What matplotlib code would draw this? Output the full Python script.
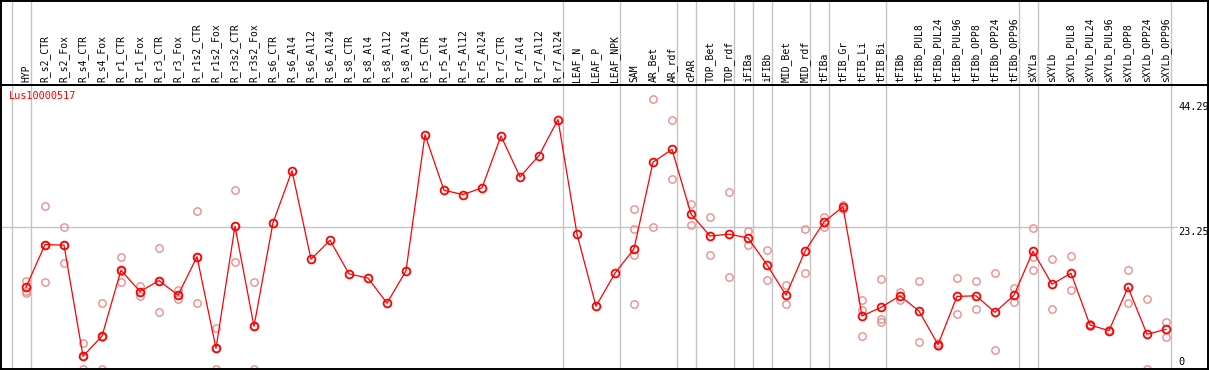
import matplotlib.pyplot as plt

LABELS = [
    "HYP", "R_s2_CTR", "R_s2_Fox", "R_s4_CTR", "R_s4_Fox", "R_r1_CTR", "R_r1_Fox",
    "R_r3_CTR", "R_r3_Fox", "R_r1s2_CTR", "R_r1s2_Fox", "R_r3s2_CTR", "R_r3s2_Fox",
    "R_s6_CTR", "R_s6_Al4", "R_s6_Al12", "R_s6_Al24", "R_s8_CTR", "R_s8_Al4",
    "R_s8_Al12", "R_s8_Al24", "R_r5_CTR", "R_r5_Al4", "R_r5_Al12", "R_r5_Al24",
    "R_r7_CTR", "R_r7_Al4", "R_r7_Al12", "R_r7_Al24", "LEAF_N", "LEAF_P", "LEAF_NPK",
    "SAM", "AR_Bet", "AR_rdf", "cPAR", "TOP_Bet", "TOP_rdf", "iFIBa", "iFIBb",
    "MID_Bet", "MID_rdf", "tFIBa", "tFIB_Gr", "tFIB_Li", "tFIB_Bi", "tFIBb",
    "tFIBb_PUL8", "tFIBb_PUL24", "tFIBb_PUL96", "tFIBb_OPP8", "tFIBb_OPP24", "tFIBb_OPP96",
    "sXYLa", "sXYLb", "sXYLb_PUL8", "sXYLb_PUL24", "sXYLb_PUL96", "sXYLb_OPP8",
    "sXYLb_OPP24", "sXYLb_OPP96",
]

MEANS = [
    13.4, 20.4, 20.3, 2.1, 5.4, 16.2, 12.7, 14.5, 12.1, 18.4, 3.4, 23.4, 7.0,
    24.0, 32.5, 18.0, 21.1, 15.6, 14.9, 10.8, 16.1, 38.4, 29.3, 28.6, 29.7,
    38.2, 31.5, 35.0, 40.9, 22.1, 10.3, 15.7,
    19.7, 33.9, 36.0, 25.4, 21.8, 22.1, 21.5, 17.1, 12.1, 19.3, 24.1, 26.6,
    8.7, 10.1, 12.0, 9.5, 4.0, 11.9, 12.0, 9.3, 12.1,
    19.3, 13.9, 15.7, 7.2, 6.3, 13.4, 5.7, 6.5,
]

REPLICATES = [
    [14.4, 12.8, 12.4], [26.7, 14.2, 20.4], [23.2, 17.3, 20.3], [4.2, 2.1, 0.0],
    [10.9, 5.2, 0.0], [18.3, 14.2, 16.1], [13.6, 12.0, 12.6], [19.8, 9.3, 14.5],
    [12.9, 11.4, 12.1], [25.9, 10.8, 18.4], [6.8, 0.0, 3.4], [29.3, 17.5, 23.4],
    [14.2, 0.0, 7.0],
    [], [], [], [], [], [], [], [], [], [], [], [], [], [], [], [], [], [], [],
    [26.2, 23.0, 18.7, 10.7], [44.29, 23.3], [40.9, 31.2], [27.1, 23.6],
    [24.9, 18.7], [29.0, 15.1], [22.6, 20.3], [19.5, 14.6], [13.8, 10.7],
    [23.0, 15.7], [24.9, 23.2], [26.9, 26.3], [11.3, 9.7, 5.4], [14.7, 8.2, 7.7],
    [12.6, 11.3], [14.4, 4.4], [3.8, 4.3], [14.9, 9.0], [14.5, 9.8], [15.7, 3.1],
    [13.2, 11.0], [23.1, 18.4, 16.3], [18.0, 9.8], [18.6, 12.9], [7.3, 7.0],
    [6.4, 6.3], [16.2, 10.8], [11.4, 0.0], [7.7, 5.2],
]

GROUP_ENDS = [-1, 0, 28, 31, 34, 35, 37, 38, 39, 41, 42, 45, 52, 53, 60]
GENE = "Lus10000517"
MAX_VAL = 44.29
MID_VAL = 23.25

RED = "#ff0000"
PINK = "#ec8c8c"
GRID = "#c4c4c4"
MONO = "DejaVu Sans Mono"

W, H = 1209, 370
HEADER = 85
XLIM = ((1 - 26) / 19, (1208 - 26) / 19)
YLIM = (0, 46.56)

fig = plt.figure(figsize=(W / 100, H / 100), dpi=100)
ax = fig.add_axes([1 / W, 1 / H, 1207 / W, (H - HEADER - 1) / H])
hax = fig.add_axes([1 / W, (H - HEADER) / H, 1207 / W, (HEADER - 1) / H])

for a in (ax, hax):
    a.set_xlim(*XLIM)
    a.set_xticks([])
    a.set_yticks([])
    for s in a.spines.values():
        s.set_color("black")
        s.set_linewidth(1.4)
    for g in GROUP_ENDS:
        a.axvline(g + 4.5 / 19, color=GRID, lw=1.0, zorder=0)

hax.set_ylim(0, 1)
for i, lab in enumerate(LABELS):
    hax.text(i, 0.03, lab, rotation=90, ha="center", va="bottom",
             fontsize=7.0, family=MONO)

ax.set_ylim(*YLIM)
x = list(range(len(LABELS)))
ax.hlines(MID_VAL, XLIM[0], (1177 - 26) / 19, color=GRID, lw=1.0, zorder=0)

for i, reps in enumerate(REPLICATES):
    if reps:
        ax.plot([i] * len(reps), reps, "o", ms=5.3, mfc="none", mec=PINK,
                mew=1.0, zorder=2)

ax.plot(x, MEANS, "-", color=RED, lw=0.9, zorder=3)
ax.plot(x, MEANS, "o", ms=5.6, mfc="none", mec=RED, mew=1.3, zorder=4)

ax.text(8 / 1207, (369 - 91) / 284, GENE, transform=ax.transAxes, color=RED,
        fontsize=7.4, family=MONO, va="top", ha="left")

px_to_val = lambda y: (369 - y) / 284 * YLIM[1]
rx = (1178 - 26) / 19
for val, top in [(MAX_VAL, 102), (MID_VAL, 227), (0, 357)]:
    txt = f"{val:.2f}" if val else "0"
    ax.text(rx, px_to_val(top), txt, fontsize=7.4, family=MONO,
            ha="left", va="top")

fig.savefig("out.png", dpi=100)
